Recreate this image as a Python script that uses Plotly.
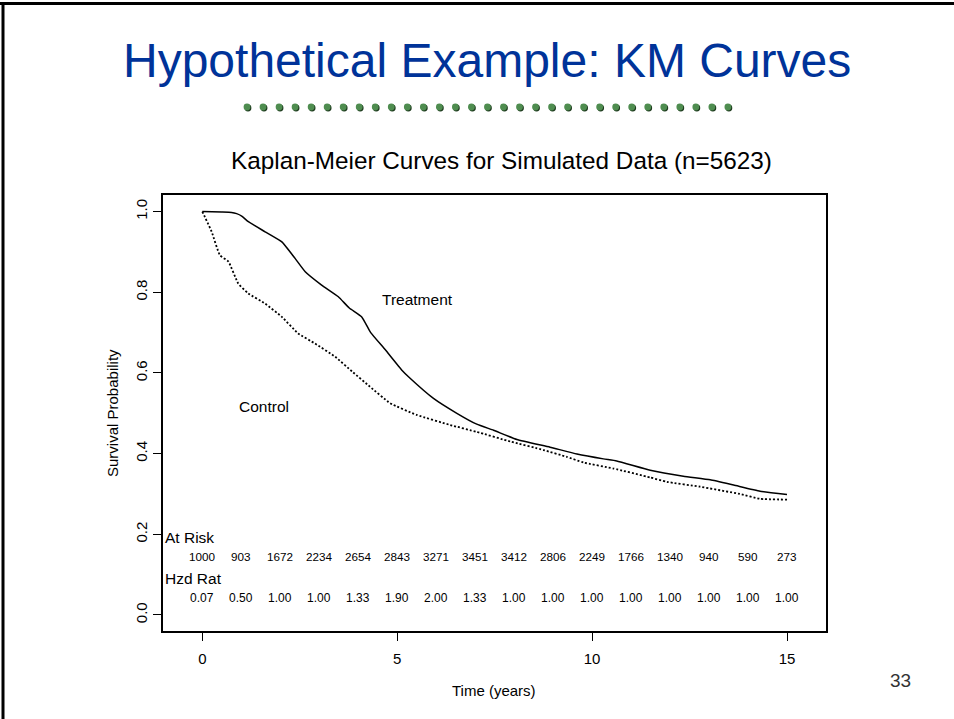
import plotly.graph_objects as go

# ---------------- data ----------------
treat_time = [0, 0.5, 0.75, 0.88, 1.01, 1.18, 1.61, 2.04, 2.38, 2.64, 3.06, 3.49, 3.77, 4.09, 4.32, 4.69,
              5.12, 5.33, 5.93, 6.53, 7.04, 7.47, 8.07, 8.92, 9.61, 10.29, 10.63, 11.49,
              12.34, 13.03, 13.63, 14.31, 15.0]
treat_surv = [1.0, 0.999, 0.998, 0.995, 0.989, 0.975, 0.95, 0.925, 0.884, 0.851, 0.818, 0.789, 0.761, 0.739,
              0.700, 0.658, 0.607, 0.587, 0.537, 0.500, 0.473, 0.458, 0.435, 0.416, 0.399,
              0.387, 0.382, 0.359, 0.344, 0.335, 0.322, 0.307, 0.299]

ctrl_time = [0, 0.24, 0.45, 0.67, 0.92, 1.18, 1.61, 2.04, 2.46, 2.89, 3.41, 3.85, 4.30, 4.82,
             5.50, 6.36, 7.04, 7.90, 8.75, 9.35, 9.78, 10.55, 11.49, 11.92, 12.77, 13.79,
             14.31, 15.0]
ctrl_surv = [1.0, 0.95, 0.892, 0.876, 0.822, 0.797, 0.772, 0.739, 0.698, 0.673, 0.640, 0.603,
             0.566, 0.525, 0.496, 0.471, 0.454, 0.430, 0.409, 0.392, 0.378, 0.363, 0.341,
             0.330, 0.318, 0.300, 0.288, 0.286]

risk_years = list(range(16))
at_risk = [1000, 903, 1672, 2234, 2654, 2843, 3271, 3451, 3412, 2806, 2249, 1766, 1340, 940, 590, 273]
hzd_rat = ["0.07", "0.50", "1.00", "1.00", "1.33", "1.90", "2.00", "1.33", "1.00", "1.00",
           "1.00", "1.00", "1.00", "1.00", "1.00", "1.00"]

x_ticks = [0, 5, 10, 15]
y_ticks = [0.0, 0.2, 0.4, 0.6, 0.8, 1.0]

slide_title = "Hypothetical Example: KM Curves"
plot_title = "Kaplan-Meier Curves for Simulated Data (n=5623)"
x_label = "Time (years)"
y_label = "Survival Probability"
page_number = "33"

# ---------------- figure ----------------
W, H = 954, 719
L, R, T, B = 163, 826, 195, 631   # plot box in pixels
FONT = "Liberation Sans, Arial, sans-serif"


def px(x):
    return (x - L) / (R - L)


def py(y):
    return (B - y) / (B - T)


fig = go.Figure()
fig.add_trace(go.Scatter(x=treat_time, y=treat_surv, mode="lines", name="Treatment",
                         line=dict(color="black", width=1.5, shape="spline", smoothing=0.4),
                         showlegend=False))
fig.add_trace(go.Scatter(x=ctrl_time, y=ctrl_surv, mode="lines", name="Control",
                         line=dict(color="black", width=1.8, dash="2px,2px", shape="spline",
                                   smoothing=0.4),
                         showlegend=False))

annotations = []
# slide title
annotations.append(dict(x=px(487), y=py(60), xref="paper", yref="paper", text=slide_title,
                        showarrow=False, font=dict(family=FONT, size=48, color="#003399"),
                        xanchor="center", yanchor="middle"))
# plot title
annotations.append(dict(x=px(501), y=py(161), xref="paper", yref="paper", text=plot_title,
                        showarrow=False, font=dict(family=FONT, size=24.3, color="black"),
                        xanchor="center", yanchor="middle"))
# axis titles
annotations.append(dict(x=px(494), y=py(690), xref="paper", yref="paper", text=x_label,
                        showarrow=False, font=dict(family=FONT, size=15, color="black"),
                        xanchor="center", yanchor="middle"))
annotations.append(dict(x=px(112), y=py(413), xref="paper", yref="paper", text=y_label,
                        showarrow=False, textangle=-90,
                        font=dict(family=FONT, size=15, color="black"),
                        xanchor="center", yanchor="middle"))
# page number
annotations.append(dict(x=px(900), y=py(680), xref="paper", yref="paper", text=page_number,
                        showarrow=False, font=dict(family=FONT, size=19, color="#333333"),
                        xanchor="center", yanchor="middle"))
# curve labels
annotations.append(dict(x=5.53, y=0.781, xref="x", yref="y", text="Treatment", showarrow=False,
                        font=dict(family=FONT, size=15.5, color="black"), xanchor="center",
                        yanchor="middle"))
annotations.append(dict(x=1.57, y=0.518, xref="x", yref="y", text="Control", showarrow=False,
                        font=dict(family=FONT, size=15.5, color="black"), xanchor="center",
                        yanchor="middle"))
# at-risk table
annotations.append(dict(x=-1.0, y=0.1925, xref="x", yref="y", text="At Risk", showarrow=False,
                        font=dict(family=FONT, size=15.5, color="black"), xanchor="left",
                        yanchor="middle"))
annotations.append(dict(x=-1.0, y=0.091, xref="x", yref="y", text="Hzd Rat", showarrow=False,
                        font=dict(family=FONT, size=15.5, color="black"), xanchor="left",
                        yanchor="middle"))
for yr, n in zip(risk_years, at_risk):
    annotations.append(dict(x=yr, y=0.1445, xref="x", yref="y", text=str(n), showarrow=False,
                            font=dict(family=FONT, size=11.7, color="black"),
                            xanchor="center", yanchor="middle"))
for yr, h in zip(risk_years, hzd_rat):
    annotations.append(dict(x=yr, y=0.041, xref="x", yref="y", text=h, showarrow=False,
                            font=dict(family=FONT, size=12, color="black"),
                            xanchor="center", yanchor="middle"))

shapes = []
# slide border (top and left)
shapes.append(dict(type="line", xref="paper", yref="paper", x0=px(0), x1=px(W), y0=py(3.5), y1=py(3.5),
                   line=dict(color="black", width=3)))
shapes.append(dict(type="line", xref="paper", yref="paper", x0=px(3), x1=px(3), y0=py(2), y1=py(H),
                   line=dict(color="black", width=3)))
# decorative dotted rule under slide title
n_dots, x_first, x_step, y_dot, r = 31, 247, 16.03, 107, 3.4
for i in range(n_dots):
    cx = x_first + i * x_step
    shapes.append(dict(type="circle", xref="paper", yref="paper",
                       x0=px(cx - r + 1), x1=px(cx + r + 1), y0=py(y_dot + r + 1), y1=py(y_dot - r + 1),
                       fillcolor="#1e3a1e", line=dict(width=0)))
    shapes.append(dict(type="circle", xref="paper", yref="paper",
                       x0=px(cx - r), x1=px(cx + r), y0=py(y_dot + r), y1=py(y_dot - r),
                       fillcolor="#4f8d50", line=dict(width=0)))

fig.update_layout(
    width=W, height=H,
    margin=dict(l=L, r=W - R, t=T, b=H - B, pad=0),
    paper_bgcolor="white", plot_bgcolor="white",
    font=dict(family=FONT, color="black"),
    annotations=annotations, shapes=shapes,
    xaxis=dict(range=[-1.009, 16.0], tickvals=x_ticks, ticktext=[str(v) for v in x_ticks],
               showgrid=False, zeroline=False, showline=True, mirror=True, linecolor="black",
               linewidth=1.5, ticks="outside", ticklen=8, tickwidth=1.2, tickcolor="black",
               ticklabelstandoff=5,
               tickfont=dict(family=FONT, size=15, color="black")),
    yaxis=dict(range=[-0.0397, 1.0412], tickvals=y_ticks, ticktext=[f"{v:.1f}" for v in y_ticks],
               showgrid=False, zeroline=False, showline=True, mirror=True, linecolor="black",
               linewidth=1.5, ticks="outside", ticklen=8, tickwidth=1.2, tickcolor="black",
               tickangle=-90, tickfont=dict(family=FONT, size=15, color="black")),
)

fig.write_html("out.html")
